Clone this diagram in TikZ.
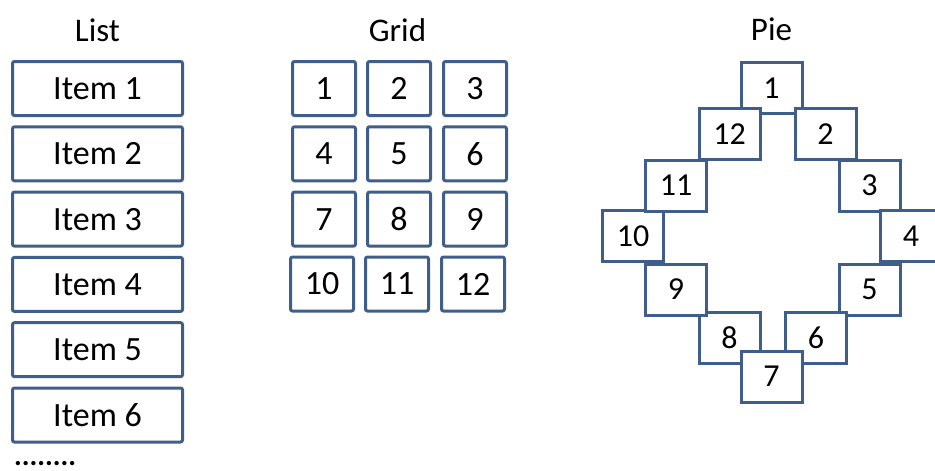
\documentclass[tikz,border=0pt]{standalone}
\usepackage{fontspec}
\setmainfont{Carlito}
\definecolor{boxblue}{HTML}{3F5F8A}
\begin{document}
\begin{tikzpicture}[x=1pt,y=-1pt,
  lbl/.style={font=\fontsize{33}{38}\selectfont, inner sep=0pt},
  basebox/.style={draw=boxblue, line width=3pt, fill=white, inner sep=0pt, font=\fontsize{34}{40}\selectfont},
  listbox/.style={basebox, rounded corners=2pt, minimum width=170pt, minimum height=54pt},
  gridbox/.style={basebox, rounded corners=2pt, minimum width=63pt, minimum height=54pt},
  piebox/.style={basebox, minimum width=61pt, minimum height=51pt, font=\fontsize{32}{38}\selectfont}]
\useasboundingbox (0,0) rectangle (935,471);
% titles
\node[lbl] (tlist) at (97.5,30) {List};
\node[lbl] (tgrid) at (397.5,30) {Grid};
\node[lbl] (tpie) at (771.5,29) {Pie};
% list
\foreach \i in {1,...,6} {
  \node[listbox] (l\i) at (97.5,{88.5+65.3*(\i-1)}) {Item \i};
}
\node[lbl, font=\bfseries\fontsize{29}{34}\selectfont, anchor=base west] (dots) at (14,465) {........};
% grid
\foreach \r/\ya in {0/88.5,1/153.8,2/219.1} {
  \foreach \c/\xa in {1/324,2/399,3/475} {
    \pgfmathtruncatemacro{\n}{3*\r+\c}
    \node[gridbox] (g\n) at (\xa,\ya) {\n};
  }
}
\node[gridbox] (g10) at (322,284) {10};
\node[gridbox] (g11) at (397,284) {11};
\node[gridbox] (g12) at (473,284) {12};
% pie (drawing order for overlaps)
\node[piebox] (p1) at (771.5,88) {1};
\node[piebox] (p3) at (869.5,185.5) {3};
\node[piebox] (p5) at (869.5,289.5) {5};
\node[piebox] (p8) at (729.5,338) {8};
\node[piebox] (p9) at (676,289.5) {9};
\node[piebox] (p10) at (633,236) {10};
\node[piebox] (p11) at (676,185.5) {11};
\node[piebox] (p12) at (729.5,134) {12};
\node[piebox] (p2) at (825.5,134) {2};
\node[piebox] (p4) at (911,236) {4};
\node[piebox] (p6) at (816,338) {6};
\node[piebox] (p7) at (771.5,376.5) {7};
\end{tikzpicture}
\end{document}
